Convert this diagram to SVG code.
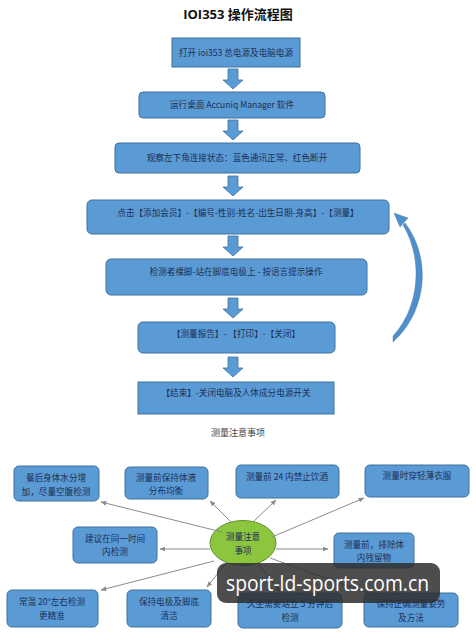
<svg xmlns="http://www.w3.org/2000/svg" width="476" height="640" viewBox="0 0 476 640">
<defs>
<style>
.box{fill:#5b9bd5;stroke:#41719c;stroke-width:1}
.arr{fill:#5b9bd5;stroke:#41719c;stroke-width:0.8}
.t{font-family:"Noto Sans CJK SC","Liberation Sans",sans-serif;font-size:8.6px;fill:#1c2f55;text-anchor:middle}
.c{stroke:#8c8c8c;stroke-width:1;fill:none;marker-end:url(#ah)}
</style>
<marker id="ah" viewBox="0 0 10 10" refX="9" refY="5" markerWidth="6" markerHeight="6" orient="auto">
<path d="M0,1 L10,5 L0,9 z" fill="#8c8c8c"/>
</marker>
</defs>
<rect width="476" height="640" fill="#ffffff"/>
<text x="238" y="19" font-family="'Open Sans','Noto Sans CJK SC',sans-serif" font-size="13" font-weight="bold" fill="#111" text-anchor="middle">IOI353  操作流程图</text>

<g id="s1"><rect class="box" x="172" y="38" width="128" height="29"/><text class="t" x="236" y="55.5">打开 ioi353 总电源及电脑电源</text></g>
<g id="s2"><rect class="box" x="139" y="92" width="186" height="26" rx="4"/><text class="t" x="232" y="108">运行桌面 Accuniq Manager 软件</text></g>
<g id="s3"><rect class="box" x="115" y="143" width="245" height="30" rx="4"/><text class="t" x="237" y="161">观察左下角连接状态：蓝色通讯正常、红色断开</text></g>
<g id="s4"><rect class="box" x="87" y="200" width="302" height="34" rx="5"/><text class="t" x="238" y="216">点击【添加会员】-【编号-性别-姓名-出生日期-身高】-【测量】</text></g>
<g id="s5"><rect class="box" x="106" y="259" width="261" height="36" rx="5"/><text class="t" x="236" y="275">检测者裸脚-站在脚底电极上 - 按语言提示操作</text></g>
<g id="s6"><rect class="box" x="138" y="322" width="197" height="31" rx="5"/><text class="t" x="236" y="337">【测量报告】- 【打印】-【关闭】</text></g>
<g id="s7"><rect class="box" x="138" y="382" width="196" height="32"/><text class="t" x="236" y="396">【结束】-关闭电脑及人体成分电源开关</text></g>

<g id="flow-connectors">
<path class="arr" d="M228,69 h10 v11 h5 l-10,9 l-10,-9 h5 z"/>
<path class="arr" d="M228,120 h10 v11 h5 l-10,9 l-10,-9 h5 z"/>
<path class="arr" d="M228,176 h10 v11 h5 l-10,9 l-10,-9 h5 z"/>
<path class="arr" d="M228,236 h10 v11 h5 l-10,9 l-10,-9 h5 z"/>
<path class="arr" d="M228,298 h10 v11 h5 l-10,9 l-10,-9 h5 z"/>
<path class="arr" d="M228,357 h10 v11 h5 l-10,9 l-10,-9 h5 z"/>
<path fill="#4f8fcc" stroke="#41719c" stroke-width="0.4" d="M393,342 C427,312 432,258 405,223 L403,225 C424,260 419,308 393,336 Z"/>
<path fill="#4f8fcc" stroke="#41719c" stroke-width="0.4" d="M394,213 L408,218 L400,227 Z"/>
</g>

<text x="238" y="436" font-family="'Noto Sans CJK SC',sans-serif" font-size="9" fill="#444" text-anchor="middle">测量注意事项</text>

<g id="center"><ellipse cx="243" cy="543" rx="33" ry="22.5" fill="#8cc63f" stroke="#5e8f2a" stroke-width="1"/><text class="t" x="243" y="540">测量注意</text><text class="t" x="243" y="554">事项</text></g>

<g id="n1"><rect class="box" x="14" y="466" width="85" height="35" rx="5"/><text class="t" x="56" y="481">餐后身体水分增</text><text class="t" x="56" y="495">加，尽量空腹检测</text></g>
<g id="n2"><rect class="box" x="125" y="467" width="83" height="32" rx="5"/><text class="t" x="166" y="481">测量前保持体液</text><text class="t" x="166" y="494">分布均衡</text></g>
<g id="n3"><rect class="box" x="236" y="465" width="103" height="33" rx="5"/><text class="t" x="287" y="480">测量前 24 内禁止饮酒</text></g>
<g id="n4"><rect class="box" x="365" y="465" width="104" height="32" rx="5"/><text class="t" x="417" y="479">测量时穿轻薄衣服</text></g>
<g id="n5"><rect class="box" x="73" y="527" width="84" height="36" rx="5"/><text class="t" x="115" y="542">建议在同一时间</text><text class="t" x="115" y="555">内检测</text></g>
<g id="n6"><rect class="box" x="334" y="533" width="80" height="35" rx="5"/><text class="t" x="374" y="548">测量前，排除体</text><text class="t" x="374" y="561">内残留物</text></g>
<g id="n7"><rect class="box" x="7" y="590" width="91" height="37" rx="5"/><text class="t" x="52" y="605">常温 20°左右检测</text><text class="t" x="52" y="619">更精准</text></g>
<g id="n8"><rect class="box" x="127" y="590" width="84" height="37" rx="5"/><text class="t" x="169" y="605">保持电极及脚底</text><text class="t" x="169" y="619">清洁</text></g>
<g id="n9"><rect class="box" x="238" y="593" width="104" height="35" rx="5"/><text class="t" x="290" y="607">久坐需要站立 5 分钟后</text><text class="t" x="290" y="621">检测</text></g>
<g id="n10"><rect class="box" x="364" y="593" width="94" height="34" rx="5"/><text class="t" x="411" y="607">保持正确测量姿势</text><text class="t" x="411" y="621">及方法</text></g>

<g id="connectors">
<line class="c" x1="222" y1="532" x2="101" y2="502"/>
<line class="c" x1="232" y1="523" x2="210" y2="501"/>
<line class="c" x1="253" y1="522" x2="276" y2="500"/>
<line class="c" x1="272" y1="537" x2="364" y2="498"/>
<line class="c" x1="210" y1="549" x2="160" y2="549"/>
<line class="c" x1="276" y1="549" x2="328" y2="549"/>
<line class="c" x1="214" y1="561" x2="101" y2="590"/>
<line class="c" x1="226" y1="563" x2="207" y2="587"/>
<line class="c" x1="258" y1="563" x2="280" y2="592"/>
<line class="c" x1="270" y1="558" x2="370" y2="594"/>
</g>

<g id="watermark">
<rect x="217" y="563" width="223" height="40" rx="9" fill="#2e2e2e" fill-opacity="0.85"/>
<text x="226" y="591" font-family="'Open Sans','DejaVu Sans',sans-serif" font-size="21" fill="#ffffff" textLength="203" lengthAdjust="spacingAndGlyphs">sport-ld-sports.com.cn</text>
</g>
</svg>
